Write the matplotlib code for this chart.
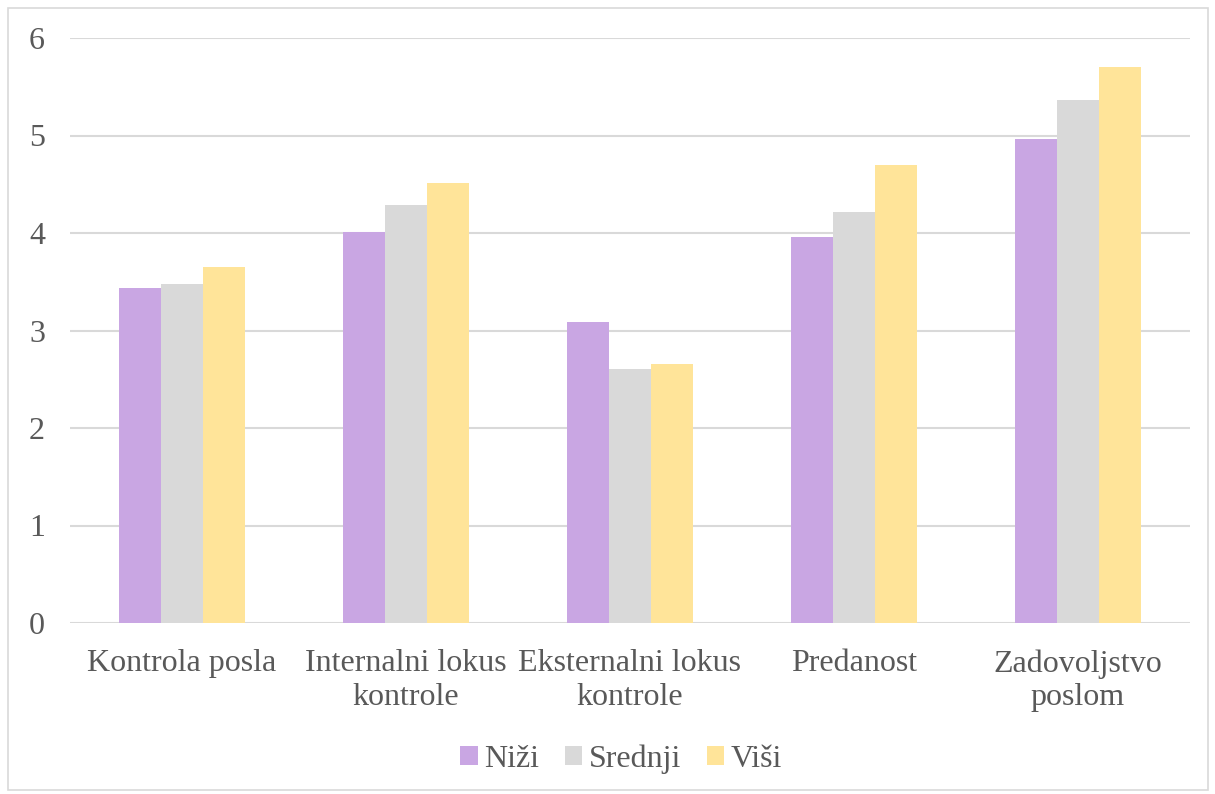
import numpy as np
import matplotlib.pyplot as plt
from matplotlib.patches import Rectangle

categories = ["Kontrola posla", "Internalni lokus\nkontrole", "Eksternalni lokus\nkontrole",
              "Predanost", "Zadovoljstvo\nposlom"]
nizi = [3.44, 4.01, 3.09, 3.96, 4.96]
srednji = [3.48, 4.29, 2.61, 4.22, 5.36]
visi = [3.65, 4.51, 2.66, 4.70, 5.70]

series = [("Niži", nizi, "#C9A6E3"), ("Srednji", srednji, "#D9D9D9"), ("Viši", visi, "#FFE499")]

plt.rcParams["font.family"] = ["Liberation Serif", "DejaVu Serif"]
text_color = "#595959"

fig = plt.figure(figsize=(12.15, 7.94), dpi=100)
ax = fig.add_axes([70 / 1215, 1 - 623 / 794, 1120 / 1215, 585 / 794])

x = np.arange(len(categories))
w = 0.1875
for i, (name, vals, col) in enumerate(series):
    ax.bar(x + (i - 1) * w, vals, width=w, color=col, label=name, zorder=3)

ax.set_xlim(-0.5, len(categories) - 0.5)
ax.set_ylim(0, 6)
ax.set_yticks(range(0, 7))
ax.set_xticks(x)
ax.set_xticklabels(categories, fontsize=23, color=text_color, linespacing=1.2)
ax.tick_params(axis="y", labelsize=23, labelcolor=text_color, length=0, pad=18)
ax.tick_params(axis="x", length=0, pad=19)
ax.grid(True, axis="y", color="#D9D9D9", linewidth=1.5, zorder=0)
for s in ax.spines.values():
    s.set_visible(False)

ax.legend(loc="center", bbox_to_anchor=(0.492, -0.233), ncol=3, frameon=False,
          fontsize=23, labelcolor=text_color, handlelength=0.55, handleheight=0.55,
          handletextpad=0.2, columnspacing=0.8)

fig.patches.append(Rectangle((8 / 1215, 4 / 794), 1200 / 1215, 782 / 794,
                             transform=fig.transFigure, fill=False,
                             edgecolor="#D9D9D9", linewidth=1.2))

plt.savefig("out.png", dpi=100)
